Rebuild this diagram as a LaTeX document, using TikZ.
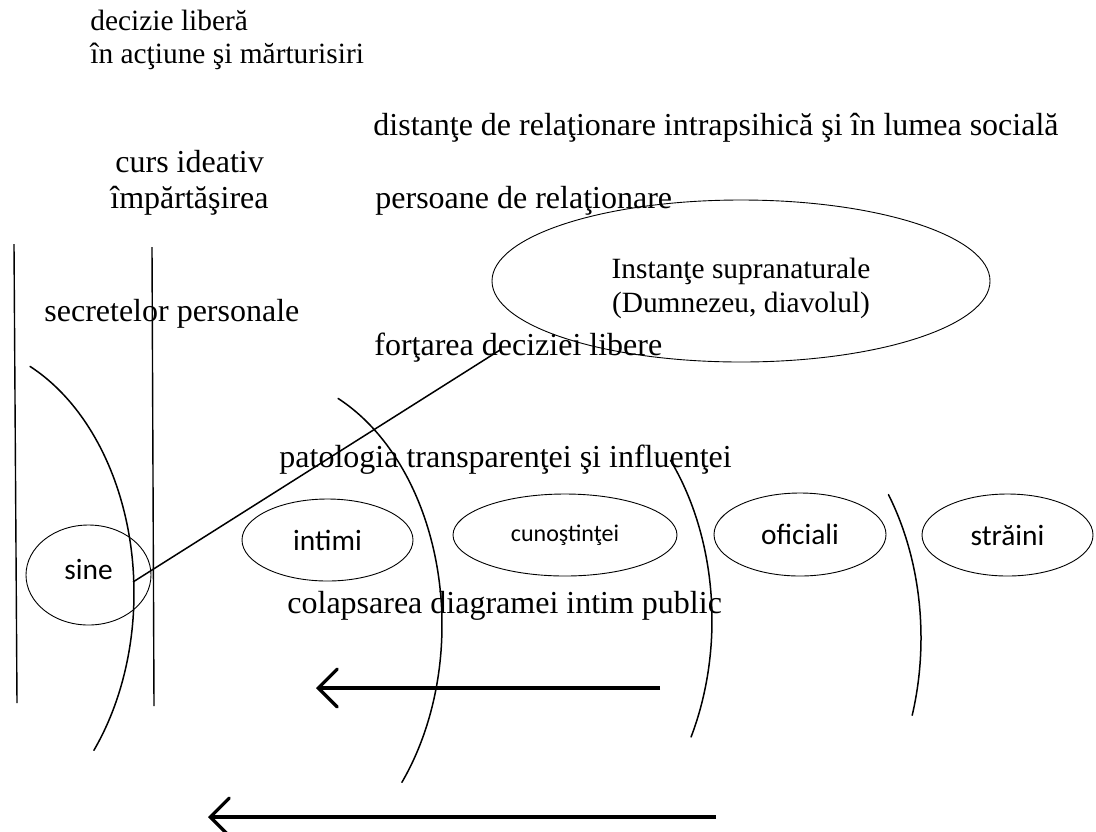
\documentclass[tikz,border=0pt]{standalone}
\usepackage{fontspec}
\setmainfont{Liberation Serif}
\newfontfamily\timesf{Liberation Serif}
\newfontfamily\calib{Carlito}
\usetikzlibrary{shapes.geometric,arrows.meta}

\begin{document}
\begin{tikzpicture}[x=0.5pt,y=-0.5pt,
  txtS/.style={anchor=base west,inner sep=0pt,font=\timesf\fontsize{14.7}{17}\selectfont},
  txtL/.style={anchor=base west,inner sep=0pt,font=\timesf\fontsize{16}{18.4}\selectfont},
  oval/.style={draw,ellipse,line width=0.45pt,inner sep=0pt,
               font=\calib\fontsize{14.7}{17}\selectfont},
  wall/.style={line width=0.7pt},
  zone/.style={line width=0.75pt,line cap=round},
  link/.style={line width=0.75pt},
  push/.style={line width=1.6pt,-{Straight Barb[length=9.5pt,width=19pt,line cap=round]}}
]
\useasboundingbox (0,0) rectangle (1096,831);

% ---- free-standing captions
\node[txtS] (dec1) at (90,30) {decizie liberă};
\node[txtS] (dec2) at (90,63) {în acţiune şi mărturisiri};
\node[txtL] (dist) at (373,135) {distanţe de relaţionare intrapsihică şi în lumea socială};
\node[txtL] (curs) at (115,172) {curs ideativ};
\node[txtL] (imp)  at (110,208) {împărtăşirea};
\node[txtL] (pers) at (375,208) {persoane de relaţionare};
\node[txtL] (secr) at (44,321) {secretelor personale};
\node[txtL] (fort) at (374,355) {forţarea deciziei libere};
\node[txtL] (pato) at (279,467) {patologia transparenţei şi influenţei};
\node[txtL] (cola) at (287,613) {colapsarea diagramei intim public};

% ---- supernatural instances
\node[oval,minimum width=249pt,minimum height=81pt] (sup) at (741,281) {};
\node[txtS,anchor=base] (sup1) at (741,278) {Instanţe supranaturale};
\node[txtS,anchor=base] (sup2) at (741,312) {(Dumnezeu, diavolul)};

% ---- circles of relating
\node[oval,minimum width=62.5pt,minimum height=50pt,text depth=6pt] (self) at (88.5,575) {sine};
\node[oval,minimum width=85.5pt,minimum height=41pt] (intim) at (327.5,540) {intimi};
\node[oval,minimum width=112pt,minimum height=41pt,
      font=\calib\fontsize{12}{14}\selectfont] (cun) at (565,535) {cunoştinţei};
\node[oval,minimum width=86pt,minimum height=41.5pt] (ofic) at (800,534.5) {oficiali};
\node[oval,minimum width=85.5pt,minimum height=41pt] (strain) at (1007.5,535) {străini};

% ---- the two walls around the self
\draw[wall] (14,244) -- (17,703);
\draw[wall] (152,247) -- (154,706);

% ---- boundaries between the zones (pieces of one and the same ellipse)
\draw[zone] plot[domain=-65:39,samples=80,variable=\t]
  ({-46+180*cos(\t)},{593+250*sin(\t)});
\draw[zone] plot[domain=-65:39,samples=80,variable=\t]
  ({262+180*cos(\t)},{625+250*sin(\t)});
\draw[zone] plot[domain=-39.7:27.9,samples=60,variable=\t]
  ({532+180*cos(\t)},{620+250*sin(\t)});
\draw[zone] plot[domain=-35:18,samples=60,variable=\t]
  ({741+180*cos(\t)},{638+250*sin(\t)});

% ---- forcing of the free decision
\coordinate (lnA) at (133,582);
\coordinate (lnB) at (500,350);
\draw[link] (lnA) -- (lnB);

% ---- collapse arrows
\coordinate (a1s) at (660,688);
\coordinate (a1e) at (316,688);
\coordinate (a2s) at (716,817);
\coordinate (a2e) at (208,817);
\draw[push] (a1s) -- (a1e);
\draw[push] (a2s) -- (a2e);
\end{tikzpicture}
\end{document}
